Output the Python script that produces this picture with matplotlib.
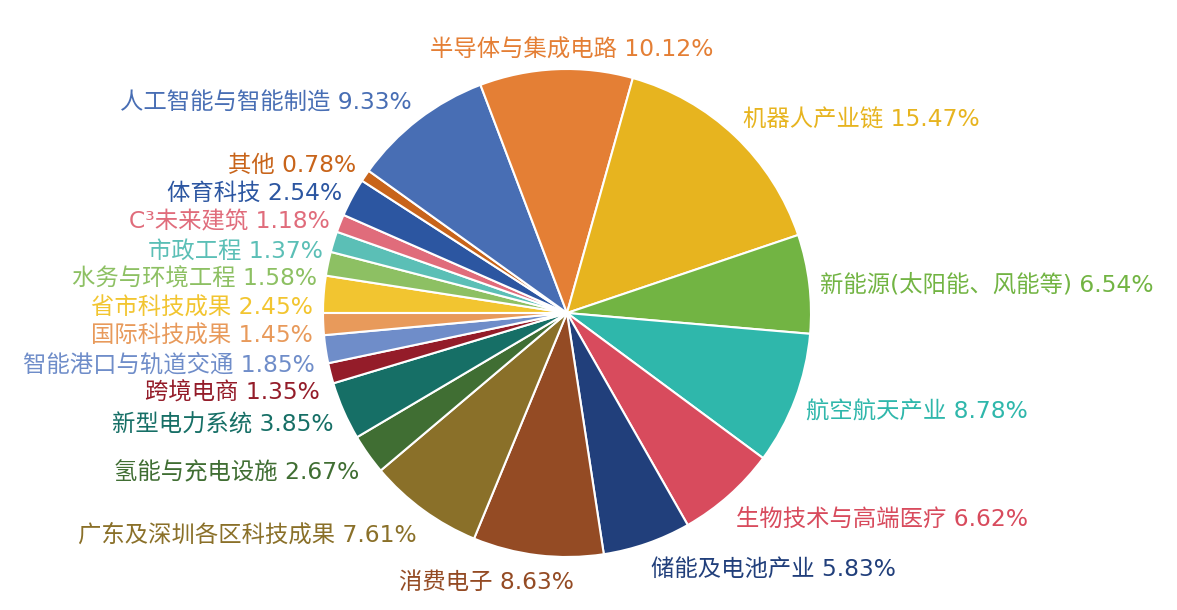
import numpy as np
import matplotlib
matplotlib.use('Agg')
import matplotlib.pyplot as plt

plt.rcParams['font.family'] = ['DejaVu Sans', 'Noto Sans CJK SC']

# ---- data (clockwise from 9 o'clock) ----
categories = ['省市科技成果', '水务与环境工程', '市政工程', 'C³未来建筑', '体育科技', '其他',
              '人工智能与智能制造', '半导体与集成电路', '机器人产业链', '新能源(太阳能、风能等)',
              '航空航天产业', '生物技术与高端医疗', '储能及电池产业', '消费电子',
              '广东及深圳各区科技成果', '氢能与充电设施', '新型电力系统', '跨境电商',
              '智能港口与轨道交通', '国际科技成果']
shares = [2.45, 1.58, 1.37, 1.18, 2.54, 0.78,
          9.33, 10.12, 15.47, 6.54,
          8.78, 6.62, 5.83, 8.63,
          7.61, 2.67, 3.85, 1.35,
          1.85, 1.45]
colors = ['#F2C530', '#8DC063', '#5BBFB6', '#E06C7B', '#2C56A1', '#C8641A',
          '#486EB4', '#E47F35', '#E7B41F', '#72B443',
          '#2FB7AB', '#D84B5D', '#213F7B', '#944B24',
          '#8A7029', '#406E33', '#166F66', '#941C29',
          '#6F8DC9', '#E89A5B']

# ---- layout (pixels) ----
W, H = 1177, 610
CX, CY = 567, H - 313
R = 244
RL = 255          # label anchor radius
HALF_H = 12       # half text height used for vertical offset
GAP = 28.5        # minimal vertical distance between label centres
FS = 16.8

fig = plt.figure(figsize=(W / 100, H / 100), dpi=100)
ax = fig.add_axes([0, 0, 1, 1])
wedges, _ = ax.pie(shares, colors=colors, startangle=180, counterclock=False,
                   center=(CX, CY), radius=R, frame=True,
                   wedgeprops=dict(edgecolor='white', linewidth=1.5))
ax.set_xlim(0, W)
ax.set_ylim(0, H)
ax.set_aspect('auto')
ax.axis('off')

fig.canvas.draw()
renderer = fig.canvas.get_renderer()

items = []
for wdg, cat, val, col in zip(wedges, categories, shares, colors):
    t = ax.text(0, 0, f'{cat} {val:.2f}%', fontsize=FS, color=col,
                ha='left', va='center')
    bb = t.get_window_extent(renderer)
    w = bb.width
    mid = np.deg2rad((wdg.theta1 + wdg.theta2) / 2)
    s, c = np.cos(mid), np.sin(mid)
    m = max(abs(s), abs(c))
    ax_ = CX + RL * s
    ay_ = CY + RL * c
    f = float(np.clip(0.5 - 4.5 * (s / m + 0.057), 0, 1))
    left = ax_ - f * w
    yc = ay_ + HALF_H * c / m - 4
    items.append(dict(t=t, left=left, right=left + w, y=yc))

# push labels downward to avoid overlap (top to bottom)
order = sorted(range(len(items)), key=lambda i: -items[i]['y'])
placed = []
for i in order:
    it = items[i]
    changed = True
    while changed:
        changed = False
        for j in placed:
            jt = items[j]
            if it['left'] < jt['right'] + 4 and it['right'] > jt['left'] - 4:
                if jt['y'] - it['y'] < GAP:
                    it['y'] = jt['y'] - GAP
                    changed = True
    placed.append(i)

for it in items:
    it['t'].set_position((it['left'], it['y']))

fig.savefig('out.png', dpi=100)
